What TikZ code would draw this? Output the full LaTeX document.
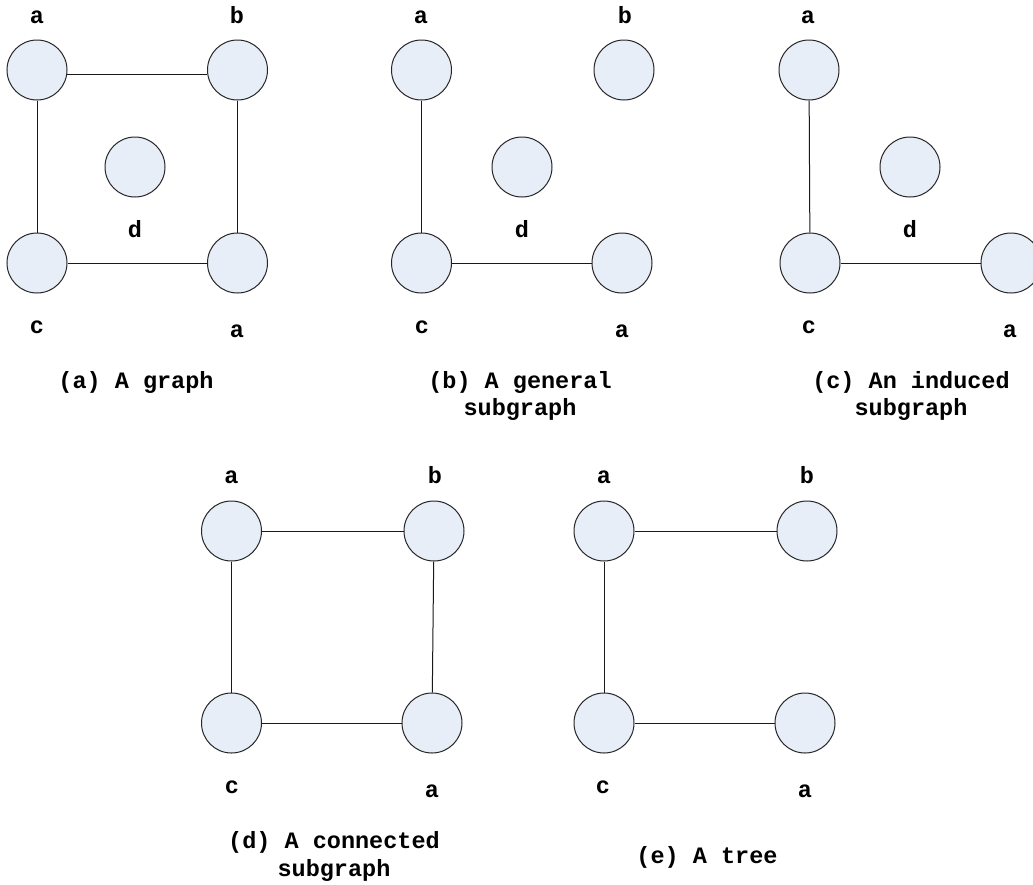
\documentclass[tikz,border=0pt]{standalone}
\usepackage{fontspec}
\setmonofont{Liberation Mono}
\definecolor{vfill}{RGB}{232,238,248}
\newcommand\lblfont{\fontsize{23.5pt}{27pt}\selectfont\ttfamily\bfseries}
\begin{document}
\begin{tikzpicture}[x=1pt,y=-1pt,
  vtx/.style={circle,draw=black!85,line width=1pt,fill=vfill,minimum size=60pt,inner sep=0pt},
  lbl/.style={anchor=base,font=\lblfont,inner sep=0pt},
  edge/.style={draw=black!90,line width=1pt}]
\clip (0,0) rectangle (1033,884);
\fill[white] (0,0) rectangle (1033,884);

% (a) a graph
\node[vtx] (A1) at (37,70) {};
\node[vtx] (B1) at (237.5,70) {};
\node[vtx] (D1) at (135,167) {};
\node[vtx] (C1) at (37,263) {};
\node[vtx] (E1) at (237.5,263) {};
\draw[edge] (A1.-9.6) -- (B1.189.6);
\draw[edge] (A1) -- (C1);
\draw[edge] (B1) -- (E1);
\draw[edge] (C1) -- (E1);
\node[lbl] (la1) at (37,23) {a};
\node[lbl] (lb1) at (237,23) {b};
\node[lbl] (ld1) at (135,237) {d};
\node[lbl] (lc1) at (37,333) {c};
\node[lbl] (le1) at (237,337) {a};
\node[lbl] (cap1) at (136,388) {(a) A graph};

% (b) a general subgraph
\node[vtx] (A2) at (421.5,70) {};
\node[vtx] (B2) at (624,70) {};
\node[vtx] (D2) at (522,167) {};
\node[vtx] (C2) at (421.5,263) {};
\node[vtx] (E2) at (622,263) {};
\draw[edge] (A2) -- (C2);
\draw[edge] (C2) -- (E2);
\node[lbl] (la2) at (421,23) {a};
\node[lbl] (lb2) at (625,23) {b};
\node[lbl] (ld2) at (522,237) {d};
\node[lbl] (lc2) at (422,333) {c};
\node[lbl] (le2) at (622,337) {a};
\node[lbl] (cap2a) at (520,388) {(b) A general};
\node[lbl] (cap2b) at (520,415) {subgraph};

% (c) an induced subgraph
\node[vtx] (A3) at (809,70) {};
\node[vtx] (D3) at (910,167) {};
\node[vtx] (C3) at (810,263) {};
\node[vtx] (E3) at (1011,263) {};
\draw[edge] (A3) -- (C3);
\draw[edge] (C3) -- (E3);
\node[lbl] (la3) at (808,23) {a};
\node[lbl] (ld3) at (910,237) {d};
\node[lbl] (lc3) at (809,333) {c};
\node[lbl] (le3) at (1010,337) {a};
\node[lbl] (cap3a) at (911,388) {(c) An induced};
\node[lbl] (cap3b) at (911,415) {subgraph};

% (d) a connected subgraph
\node[vtx] (A4) at (231.5,531) {};
\node[vtx] (B4) at (434,531) {};
\node[vtx] (C4) at (231.5,723) {};
\node[vtx] (E4) at (432,723) {};
\draw[edge] (A4) -- (B4);
\draw[edge] (A4) -- (C4);
\draw[edge] (B4) -- (E4);
\draw[edge] (C4) -- (E4);
\node[lbl] (la4) at (231.5,483) {a};
\node[lbl] (lb4) at (435,483) {b};
\node[lbl] (lc4) at (232,793) {c};
\node[lbl] (le4) at (432,797) {a};
\node[lbl] (cap4a) at (334,848) {(d) A connected};
\node[lbl] (cap4b) at (334,876) {subgraph};

% (e) a tree
\node[vtx] (A5) at (604,531) {};
\node[vtx] (B5) at (807,531) {};
\node[vtx] (C5) at (604,723) {};
\node[vtx] (E5) at (805,723) {};
\draw[edge] (A5) -- (B5);
\draw[edge] (A5) -- (C5);
\draw[edge] (C5) -- (E5);
\node[lbl] (la5) at (604,483) {a};
\node[lbl] (lb5) at (807,483) {b};
\node[lbl] (lc5) at (603,793) {c};
\node[lbl] (le5) at (805,797) {a};
\node[lbl] (cap5) at (707,863) {(e) A tree};
\end{tikzpicture}
\end{document}
